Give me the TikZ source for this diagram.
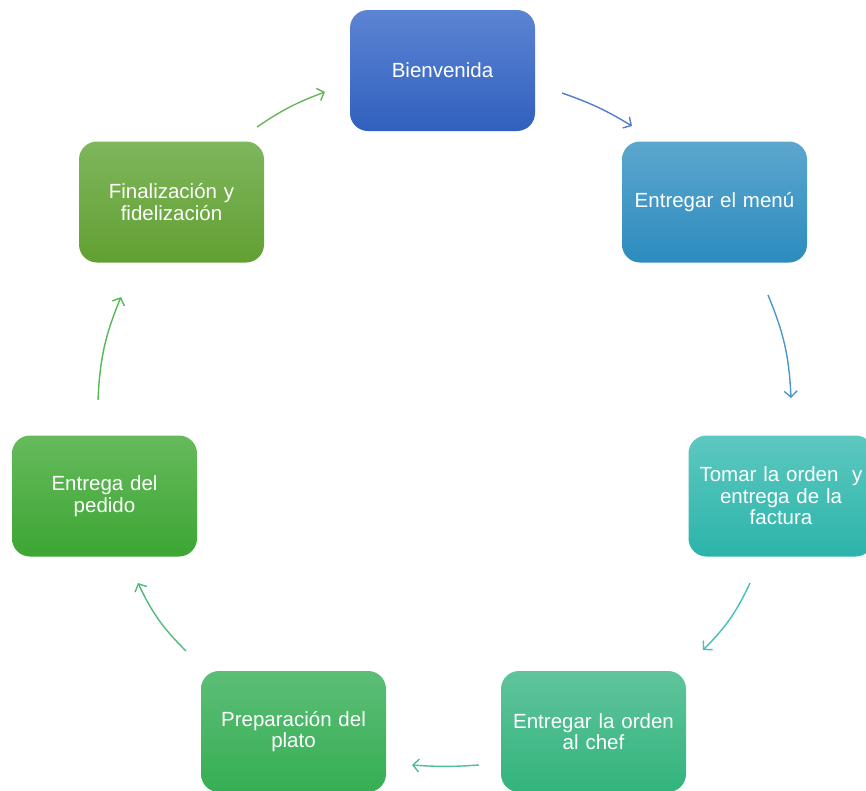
\documentclass[tikz,border=0pt]{standalone}
\usepackage{fontspec}
\setmainfont{Liberation Sans}
\usetikzlibrary{arrows.meta}
\definecolor{c1t}{RGB}{92,132,212}\definecolor{c1b}{RGB}{48,96,190}
\definecolor{c2t}{RGB}{92,166,206}\definecolor{c2b}{RGB}{44,140,190}
\definecolor{c3t}{RGB}{92,200,192}\definecolor{c3b}{RGB}{44,180,170}
\definecolor{c4t}{RGB}{96,196,156}\definecolor{c4b}{RGB}{50,180,124}
\definecolor{c5t}{RGB}{92,190,118}\definecolor{c5b}{RGB}{54,174,84}
\definecolor{c6t}{RGB}{102,186,92}\definecolor{c6b}{RGB}{60,166,52}
\definecolor{c7t}{RGB}{126,182,92}\definecolor{c7b}{RGB}{98,160,50}
\definecolor{a1}{RGB}{84,124,204}
\definecolor{a2}{RGB}{74,152,202}
\definecolor{a3}{RGB}{70,190,186}
\definecolor{a4}{RGB}{80,190,150}
\definecolor{a5}{RGB}{82,186,120}
\definecolor{a6}{RGB}{84,184,84}
\definecolor{a7}{RGB}{104,180,90}
\tikzset{
  stepbox/.style={rounded corners=18pt, minimum width=185pt, minimum height=121pt,
    text width=175pt, align=center, inner sep=0pt, text=white,
    font=\fontsize{20.5pt}{21.5pt}\selectfont},
  flow/.style={line width=1.4pt, -{Straight Barb[length=6pt,width=13pt,line width=1.4pt]}, bend left=10}
}
\begin{document}
\begin{tikzpicture}[x=1pt,y=-1pt]
\useasboundingbox (0,0) rectangle (866,790);
\clip (0,0) rectangle (866,790);
\node[stepbox, top color=c1t, bottom color=c1b] (b1) at (442.5,70.5) {Bienvenida};
\node[stepbox, top color=c2t, bottom color=c2b] (b2) at (714.5,202) {Entregar el menú};
\node[stepbox, top color=c3t, bottom color=c3b] (b3) at (781,496) {Tomar la orden~ y\\entrega de la\\factura};
\node[stepbox, top color=c4t, bottom color=c4b] (b4) at (593.5,731.5) {Entregar la orden\\al chef};
\node[stepbox, top color=c5t, bottom color=c5b] (b5) at (293.5,731.5) {Preparación del\\plato};
\node[stepbox, top color=c6t, bottom color=c6b] (b6) at (104.5,496) {Entrega del\\pedido};
\node[stepbox, top color=c7t, bottom color=c7b] (b7) at (171.5,202) {Finalización y\\fidelización};
\coordinate (s1) at (562,93);  \coordinate (e1) at (632,126);
\coordinate (s2) at (768,295); \coordinate (e2) at (791,398);
\coordinate (s3) at (750,583); \coordinate (e3) at (703,650);
\coordinate (s4) at (479,765); \coordinate (e4) at (412,765);
\coordinate (s5) at (186,651); \coordinate (e5) at (138,583);
\coordinate (s6) at (98,400);  \coordinate (e6) at (121,297);
\coordinate (s7) at (257,127); \coordinate (e7) at (325,92);
\draw[flow, a1, bend left=6] (s1) to (e1);
\draw[flow, a2] (s2) to (e2);
\draw[flow, a3] (s3) to (e3);
\draw[flow, a4, bend left=4] (s4) to (e4);
\draw[flow, a5] (s5) to (e5);
\draw[flow, a6] (s6) to (e6);
\draw[flow, a7, bend left=7] (s7) to (e7);
\end{tikzpicture}
\end{document}
